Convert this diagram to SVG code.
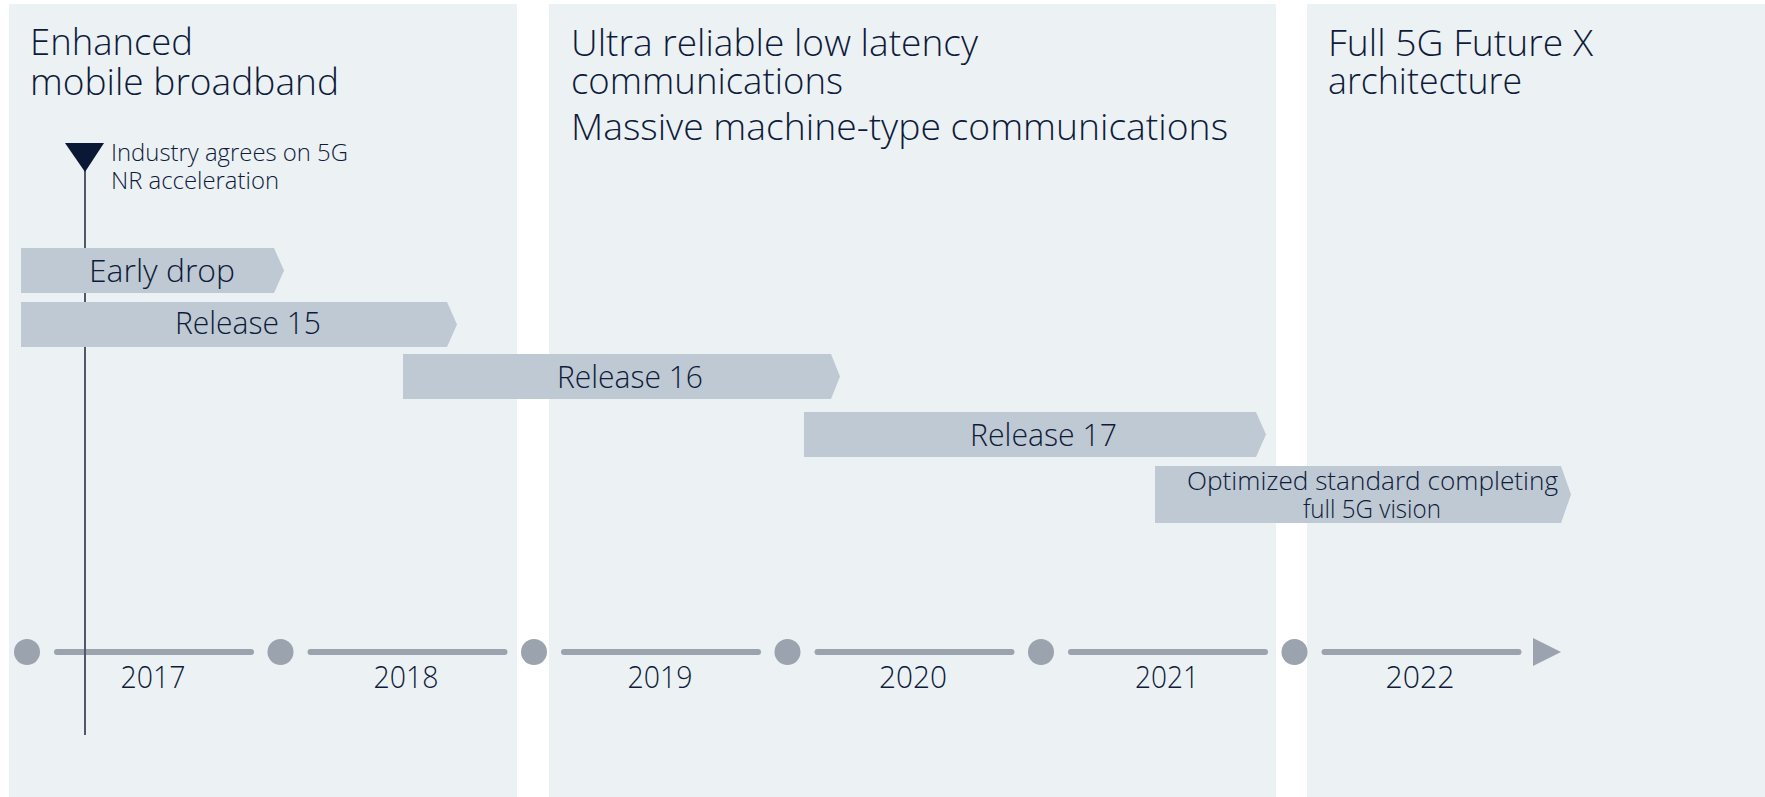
<svg xmlns="http://www.w3.org/2000/svg" width="1765" height="797" viewBox="0 0 1765 797">
<defs>
<style>
.panel{fill:#ecf1f4}
.bar{fill:#bec9d3}
.t{font-family:"Open Sans","Liberation Sans",sans-serif;font-weight:300;fill:#0e1b3a}
.title{font-size:36px}
.lbl{font-size:32px}
.small{font-size:24px}
.opt{font-size:25px}
.yr{font-size:32px;text-anchor:middle}
.dot{fill:#9aa3ae}
.seg{stroke:#9aa3ae;stroke-width:6;stroke-linecap:round;fill:none}
</style>
</defs>
<rect width="1765" height="797" fill="#ffffff"/>
<g id="panels">
<rect id="panel-embb" class="panel" x="9" y="4" width="508" height="793"/>
<rect id="panel-urllc" class="panel" x="549" y="4" width="727" height="793"/>
<rect id="panel-full5g" class="panel" x="1307" y="4" width="458" height="793"/>
</g>
<g id="panel-titles">
<text class="t title" x="30" y="55" textLength="163" lengthAdjust="spacingAndGlyphs">Enhanced</text>
<text class="t title" x="30" y="95" textLength="309" lengthAdjust="spacingAndGlyphs">mobile broadband</text>
<text class="t title" x="571" y="56" textLength="407" lengthAdjust="spacingAndGlyphs">Ultra reliable low latency</text>
<text class="t title" x="571" y="94" textLength="272" lengthAdjust="spacingAndGlyphs">communications</text>
<text class="t title" x="571" y="140" textLength="657" lengthAdjust="spacingAndGlyphs">Massive machine-type communications</text>
<text class="t title" x="1328" y="56" textLength="265" lengthAdjust="spacingAndGlyphs">Full 5G Future X</text>
<text class="t title" x="1328" y="94" textLength="194" lengthAdjust="spacingAndGlyphs">architecture</text>
</g>
<g id="timeline">
<circle class="dot" cx="27" cy="652" r="13"/>
<line class="seg" x1="57" y1="652" x2="251" y2="652"/>
<circle class="dot" cx="280.5" cy="652" r="13"/>
<line class="seg" x1="310.5" y1="652" x2="504.5" y2="652"/>
<circle class="dot" cx="534" cy="652" r="13"/>
<line class="seg" x1="564" y1="652" x2="758" y2="652"/>
<circle class="dot" cx="787.5" cy="652" r="13"/>
<line class="seg" x1="817.5" y1="652" x2="1011.5" y2="652"/>
<circle class="dot" cx="1041" cy="652" r="13"/>
<line class="seg" x1="1071" y1="652" x2="1265" y2="652"/>
<circle class="dot" cx="1294.5" cy="652" r="13"/>
<line class="seg" x1="1324.5" y1="652" x2="1518.5" y2="652"/>
<polygon class="dot" points="1533,638 1561,652 1533,666"/>
<text class="t yr" x="153" y="688" textLength="65" lengthAdjust="spacingAndGlyphs">2017</text>
<text class="t yr" x="406" y="688" textLength="65" lengthAdjust="spacingAndGlyphs">2018</text>
<text class="t yr" x="660" y="688" textLength="65" lengthAdjust="spacingAndGlyphs">2019</text>
<text class="t yr" x="913" y="688" textLength="68" lengthAdjust="spacingAndGlyphs">2020</text>
<text class="t yr" x="1167" y="688" textLength="64" lengthAdjust="spacingAndGlyphs">2021</text>
<text class="t yr" x="1420" y="688" textLength="69" lengthAdjust="spacingAndGlyphs">2022</text>
</g>
<g id="connectors">
<line x1="85" y1="165" x2="85" y2="735" stroke="#4f5968" stroke-width="2"/>
</g>
<g id="milestone">
<polygon points="65,143 104,143 85,172" fill="#0a1836"/>
<text class="t small" x="111" y="161" textLength="237" lengthAdjust="spacingAndGlyphs">Industry agrees on 5G</text>
<text class="t small" x="111" y="189" textLength="168" lengthAdjust="spacingAndGlyphs">NR acceleration</text>
</g>
<g id="bar-early-drop">
<polygon class="bar" points="21,248 274,248 284,270.5 274,293 21,293"/>
<text class="t lbl" x="89" y="282" textLength="146" lengthAdjust="spacingAndGlyphs">Early drop</text>
</g>
<g id="bar-release15">
<polygon class="bar" points="21,302 447,302 457,324.5 447,347 21,347"/>
<text class="t lbl" x="175" y="334" textLength="146" lengthAdjust="spacingAndGlyphs">Release 15</text>
</g>
<g id="bar-release16">
<polygon class="bar" points="403,354 831,354 840,376.5 831,399 403,399"/>
<text class="t lbl" x="557" y="388" textLength="146" lengthAdjust="spacingAndGlyphs">Release 16</text>
</g>
<g id="bar-release17">
<polygon class="bar" points="804,412 1256,412 1266,434.5 1256,457 804,457"/>
<text class="t lbl" x="970" y="446" textLength="147" lengthAdjust="spacingAndGlyphs">Release 17</text>
</g>
<g id="bar-optimized">
<polygon class="bar" points="1155,466 1561,466 1571,494.5 1561,523 1155,523"/>
<text class="t opt" x="1187" y="490" textLength="371" lengthAdjust="spacingAndGlyphs">Optimized standard completing</text>
<text class="t opt" x="1303" y="518" textLength="138" lengthAdjust="spacingAndGlyphs">full 5G vision</text>
</g>
</svg>
